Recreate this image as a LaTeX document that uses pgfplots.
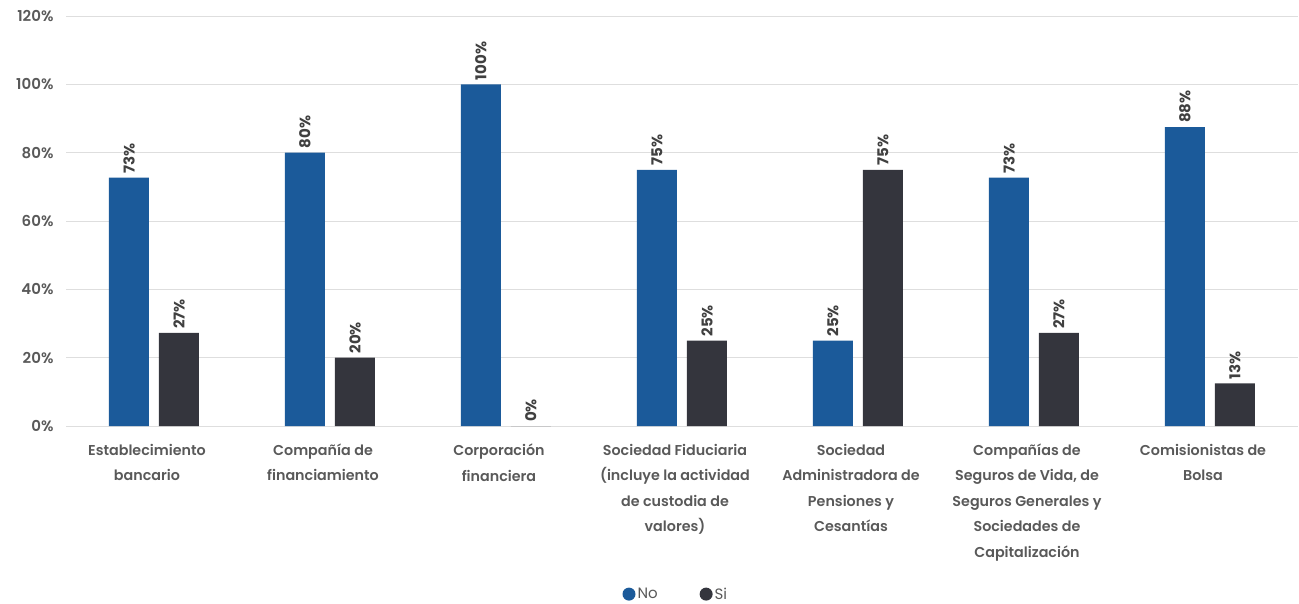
\documentclass[border=0pt]{standalone}
\usepackage{pgfplots}
\pgfplotsset{compat=1.18}
\usepackage{fontspec}
\setmainfont{Poppins}[BoldFont={Poppins SemiBold}]
\newfontfamily\pbold{Poppins Bold}
\definecolor{cNo}{HTML}{1B5A9A}
\definecolor{cSi}{HTML}{34353D}
\definecolor{txt}{HTML}{595959}
\definecolor{lbl}{HTML}{404040}
\begin{document}
\begin{tikzpicture}[x=1pt,y=1pt]
\useasboundingbox (0,0) rectangle (1299,603);
\begin{axis}[
  at={(66pt,177pt)}, anchor=south west,
  scale only axis, width=1232pt, height=410pt,
  xmin=-0.5, xmax=6.5, ymin=0, ymax=120,
  axis line style={draw=none},
  ytick={0,20,...,120},
  yticklabel={\pgfmathprintnumber{\tick}\%},
  yticklabel style={font=\fontsize{15}{17}\selectfont\bfseries, color=txt, xshift=-9pt},
  /pgf/number format/assume math mode=true,
  ymajorgrids, grid style={color=black!13, line width=0.8pt},
  major tick style={draw=none},
  xtick={0,1,2,3,4,5,6},
  xticklabels={{Establecimiento\\bancario}, {Compañía de\\financiamiento}, {Corporación\\financiera}, {Sociedad Fiduciaria\\(incluye la actividad\\de custodia de\\valores)}, {Sociedad\\Administradora de\\Pensiones y\\Cesantías}, {Compañías de\\Seguros de Vida, de\\Seguros Generales y\\Sociedades de\\Capitalización}, {Comisionistas de\\Bolsa}},
  xticklabel style={align=center, font=\fontsize{14.3}{25.5}\selectfont\bfseries, color=txt, yshift=-10pt, xshift=-7pt},
  ybar, bar width=40pt,
  point meta=explicit symbolic,
  nodes near coords={\pgfplotspointmeta},
  nodes near coords style={rotate=90, anchor=west, font=\fontsize{15}{17}\selectfont\pbold, color=lbl, inner sep=4pt},
  legend style={at={(0.495,-0.41)}, anchor=center, draw=none, legend columns=2, font=\fontsize{15}{17}\selectfont, text=txt, /tikz/every even column/.append style={column sep=40pt}},
  clip=false,
]
\addplot[fill=cNo, draw=none, bar shift=-25pt, legend image code/.code={\fill[cNo] (0pt,0pt) circle (6.5pt);}] coordinates {
(0,72.73) [73\%]
(1,80) [80\%]
(2,100) [100\%]
(3,75) [75\%]
(4,25) [25\%]
(5,72.73) [73\%]
(6,87.5) [88\%]
};
\addlegendentry{No}
\addplot[fill=cSi, draw=none, bar shift=25pt, legend image code/.code={\fill[cSi] (0pt,0pt) circle (6.5pt);}] coordinates {
(0,27.27) [27\%]
(1,20) [20\%]
(2,0) [0\%]
(3,25) [25\%]
(4,75) [75\%]
(5,27.27) [27\%]
(6,12.5) [13\%]
};
\addlegendentry{Si}
\end{axis}
\end{tikzpicture}
\end{document}
